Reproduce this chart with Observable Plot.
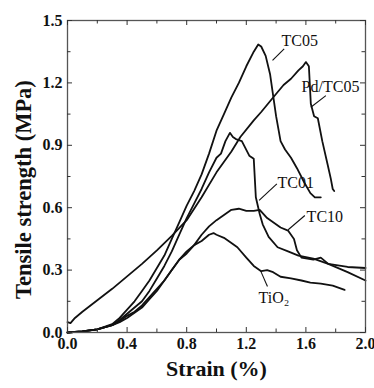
<!DOCTYPE html>
<html><head><meta charset="utf-8">
<script src="https://cdn.jsdelivr.net/npm/d3@7"></script>
<script src="https://cdn.jsdelivr.net/npm/@observablehq/plot@0.6"></script>
<style>body{margin:0;background:#fff} svg{display:block}</style>
</head><body><div id="chart"></div>
<script>
// strain (%), tensile strength (MPa)
const TC05 = [[0,0],[0.1,0.005],[0.2,0.015],[0.3,0.04],[0.35,0.07],[0.4,0.11],[0.45,0.15],[0.5,0.2],[0.55,0.25],[0.6,0.31],[0.65,0.37],[0.7,0.45],[0.75,0.53],[0.8,0.61],[0.85,0.68],[0.9,0.76],[0.95,0.86],[1.0,0.97],[1.05,1.05],[1.1,1.13],[1.15,1.2],[1.2,1.28],[1.25,1.35],[1.28,1.385],[1.3,1.375],[1.33,1.33],[1.36,1.24],[1.38,1.14],[1.4,1.04],[1.43,0.92],[1.46,0.88],[1.5,0.84],[1.54,0.79],[1.59,0.72],[1.63,0.67],[1.66,0.65],[1.7,0.65]];
const PdTC05 = [[0,0.05],[0.02,0.045],[0.05,0.07],[0.1,0.1],[0.2,0.155],[0.3,0.21],[0.4,0.27],[0.5,0.33],[0.6,0.395],[0.7,0.465],[0.8,0.54],[0.9,0.65],[1.0,0.77],[1.1,0.87],[1.16,0.94],[1.25,1.02],[1.3,1.06],[1.38,1.13],[1.45,1.19],[1.5,1.22],[1.55,1.26],[1.58,1.28],[1.6,1.3],[1.62,1.28],[1.633,1.1],[1.655,1.04],[1.68,1.03],[1.71,0.92],[1.745,0.81],[1.767,0.74],[1.78,0.69],[1.79,0.68]];
const TC01 = [[0,0],[0.1,0.005],[0.2,0.015],[0.3,0.035],[0.35,0.06],[0.4,0.09],[0.45,0.12],[0.5,0.15],[0.55,0.2],[0.6,0.26],[0.65,0.32],[0.7,0.39],[0.75,0.47],[0.8,0.55],[0.85,0.62],[0.9,0.69],[0.95,0.77],[1.0,0.84],[1.03,0.86],[1.06,0.92],[1.09,0.96],[1.11,0.94],[1.13,0.93],[1.17,0.92],[1.22,0.85],[1.25,0.835],[1.264,0.65],[1.29,0.57],[1.31,0.52],[1.35,0.46],[1.41,0.41],[1.48,0.39],[1.55,0.37],[1.65,0.355],[1.75,0.33],[1.88,0.315],[2.0,0.31]];
const TC10 = [[0,0],[0.1,0.005],[0.2,0.015],[0.3,0.035],[0.35,0.055],[0.4,0.08],[0.45,0.1],[0.5,0.13],[0.55,0.17],[0.6,0.21],[0.65,0.25],[0.7,0.3],[0.75,0.35],[0.8,0.39],[0.85,0.42],[0.9,0.47],[0.95,0.51],[1.0,0.54],[1.05,0.565],[1.1,0.59],[1.15,0.595],[1.2,0.585],[1.25,0.585],[1.29,0.59],[1.34,0.55],[1.43,0.505],[1.48,0.49],[1.52,0.45],[1.54,0.395],[1.57,0.36],[1.65,0.35],[1.7,0.36],[1.75,0.33],[1.88,0.29],[2.0,0.25]];
const TiO2 = [[0,0],[0.1,0.005],[0.2,0.015],[0.3,0.035],[0.35,0.05],[0.4,0.07],[0.45,0.095],[0.5,0.12],[0.55,0.16],[0.6,0.2],[0.65,0.25],[0.7,0.3],[0.75,0.35],[0.8,0.38],[0.85,0.42],[0.9,0.44],[0.95,0.47],[0.98,0.478],[1.0,0.47],[1.05,0.455],[1.1,0.43],[1.14,0.41],[1.2,0.36],[1.25,0.32],[1.3,0.295],[1.34,0.3],[1.38,0.29],[1.43,0.268],[1.5,0.26],[1.57,0.25],[1.63,0.24],[1.7,0.235],[1.78,0.225],[1.86,0.205]];

const seriesNames = ["TC05", "Pd/TC05", "TC01", "TC10", "TiO2"];
const seriesData = [TC05, PdTC05, TC01, TC10, TiO2];

const xMajor = [0, 0.4, 0.8, 1.2, 1.6, 2.0];
const xMinor = [0.2, 0.6, 1.0, 1.4, 1.8];
const yMajor = [0, 0.3, 0.6, 0.9, 1.2, 1.5];
const yMinor = [0.15, 0.45, 0.75, 1.05, 1.35];

const xTitle = "Strain (%)";
const yTitle = "Tensile strength (MPa)";

// annotation labels and their leader lines (data units)
const labelText = ["TC05", "Pd/TC05", "TC01", "TC10", "TiO₂"];
const labelX = [1.559, 1.765, 1.532, 1.727, 1.385];
const labelY = [1.404, 1.183, 0.721, 0.558, 0.168];
const leaderX1 = [1.376, 1.633, 1.286, 1.481, 1.297];
const leaderY1 = [1.308, 1.083, 0.635, 0.494, 0.295];
const leaderX2 = [1.454, 1.734, 1.405, 1.593, 1.342];
const leaderY2 = [1.364, 1.139, 0.715, 0.5625, 0.221];

const table = seriesNames.flatMap((s, i) => seriesData[i].map(([x, y]) => ({series: s, x, y})));
const labels = labelText.map((t, i) => ({t, x: labelX[i], y: labelY[i]}));
const leaders = labelText.map((t, i) => ({x1: leaderX1[i], y1: leaderY1[i], x2: leaderX2[i], y2: leaderY2[i]}));

const W = 374, H = 388, mL = 67, mR = 9, mT = 20, mB = 56;
const innerH = H - mT - mB, innerW = W - mL - mR;
const majorLen = 5, minorLen = 3.5;
const ink = "#111";
const font = "'Liberation Serif', 'Times New Roman', serif";

const chart = Plot.plot({
  width: W, height: H,
  marginLeft: mL, marginRight: mR, marginTop: mT, marginBottom: mB,
  x: {domain: [0, 2]},
  y: {domain: [0, 1.5]},
  style: {fontFamily: font, background: "#fff", color: ink},
  marks: [
    Plot.line(table, {x: "x", y: "y", z: "series", stroke: ink, strokeWidth: 1.8, strokeLinejoin: "round"}),
    Plot.link(leaders, {x1: "x1", y1: "y1", x2: "x2", y2: "y2", stroke: ink, strokeWidth: 1.1}),
    Plot.text(labels, {x: "x", y: "y", text: "t", fontSize: 16, fill: ink, fontWeight: "normal"}),
    Plot.frame({stroke: "#555", strokeWidth: 1.3}),
    // inward ticks
    Plot.tickX(xMajor, {x: d => d, insetTop: innerH - majorLen, stroke: "#333"}),
    Plot.tickX(xMinor, {x: d => d, insetTop: innerH - minorLen, stroke: "#333"}),
    Plot.tickX(xMajor, {x: d => d, insetBottom: innerH - majorLen, stroke: "#333"}),
    Plot.tickX(xMinor, {x: d => d, insetBottom: innerH - minorLen, stroke: "#333"}),
    Plot.tickY(yMajor, {y: d => d, insetRight: innerW - majorLen, stroke: "#333"}),
    Plot.tickY(yMinor, {y: d => d, insetRight: innerW - minorLen, stroke: "#333"}),
    Plot.tickY(yMajor, {y: d => d, insetLeft: innerW - majorLen, stroke: "#333"}),
    Plot.tickY(yMinor, {y: d => d, insetLeft: innerW - minorLen, stroke: "#333"}),
    Plot.axisX({ticks: xMajor, tickSize: 0, tickPadding: 5, tickFormat: d3.format(".1f"), fontSize: 16, fontWeight: "bold", label: null}),
    Plot.axisY({ticks: yMajor, tickSize: 0, tickPadding: 5, tickFormat: d3.format(".1f"), fontSize: 16, fontWeight: "bold", label: null}),
    Plot.text([xTitle], {frameAnchor: "bottom", dy: 43, fontSize: 22, fontWeight: "bold", fill: ink}),
    Plot.text([yTitle], {frameAnchor: "left", textAnchor: "middle", dx: -44, dy: 13, rotate: -90, fontSize: 22.5, fontWeight: "bold", fill: ink})
  ]
});
document.getElementById("chart").append(chart);
</script>
</body></html>
